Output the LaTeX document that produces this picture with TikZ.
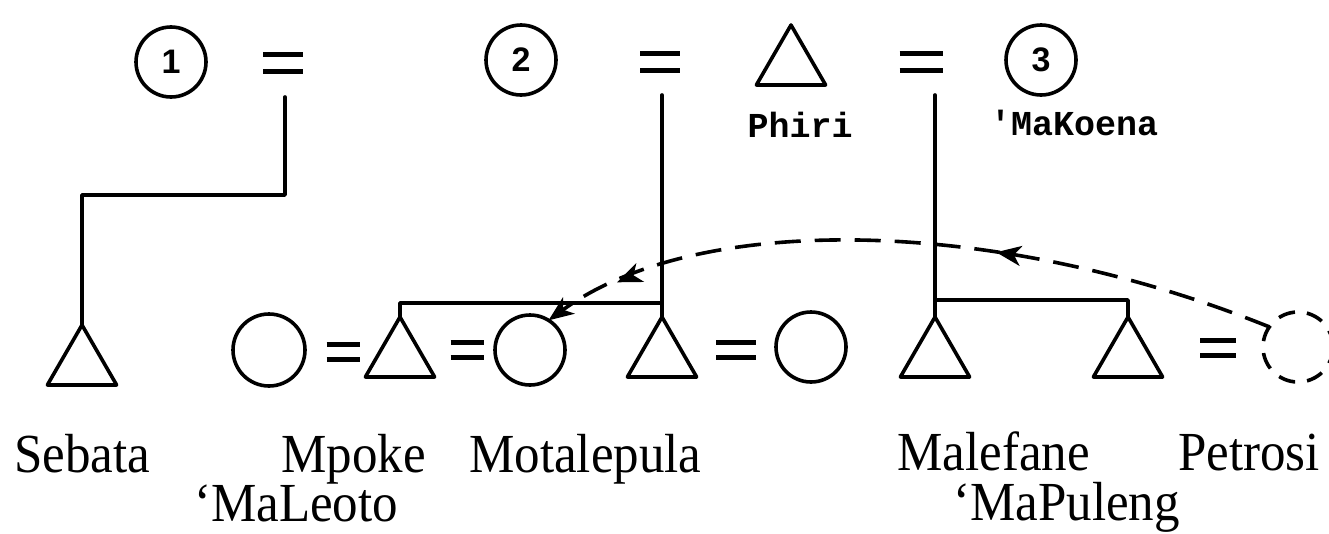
\documentclass[tikz,border=0pt]{standalone}
\usepackage{fontspec}
\setmainfont{Liberation Serif}
\newfontfamily\monob{Liberation Mono}
\newfontfamily\digitf{Liberation Sans}
\usetikzlibrary{shapes.geometric,decorations.markings,arrows.meta}
\newcommand{\tallname}[1]{\scalebox{1}[1.08]{#1}}
\begin{document}
\begin{tikzpicture}[x=1pt,y=-1pt,
  kin/.style={line width=3.6pt, line cap=round, line join=round},
  male/.style={regular polygon, regular polygon sides=3, draw, line width=3.6pt, line join=round, minimum size=80pt, inner sep=0pt, outer sep=0pt},
  female/.style={circle, draw, line width=3.6pt, minimum size=70pt, inner sep=0pt, outer sep=0pt},
  eqs/.style={minimum width=40pt, minimum height=17pt, inner sep=0pt, outer sep=0pt},
  eqsmall/.style={eqs, minimum width=33pt, minimum height=15pt},
  eqline/.style={line width=4.2pt},
  lbl/.style={font=\fontsize{51}{51}\selectfont, anchor=base west, inner sep=0pt},
  tlbl/.style={font=\monob\bfseries\fontsize{35}{35}\selectfont, anchor=base west, inner sep=0pt},
  num/.style={font=\digitf\bfseries\fontsize{34}{34}\selectfont},
  mytip/.tip={Stealth[length=25pt, width=20pt, inset=7pt]}
]
\useasboundingbox (0,0) rectangle (1329,533);

% ---- top generation ----
\node[female, num] (c1) at (171,62) {1};
\node[eqs] (e1) at (283,63) {};
\node[female, num] (c2) at (521,60) {2};
\node[eqs] (e2) at (660,62) {};
\node[male] (phi) at (791,65) {};
\node[eqs, minimum width=43pt] (e3) at (921,62) {};
\node[female, num] (c3) at (1041,60) {3};

\node[tlbl, anchor=base] (tphi) at (800,137) {Phiri};
\node[tlbl] (tmak) at (990,135) {\char"27 MaKoena};

\foreach \e in {e1,e2,e3}
  \draw[eqline] (\e.north west) -- (\e.north east) (\e.south west) -- (\e.south east);

% ---- bottom generation ----
\node[male] (seb) at (82,365) {};
\node[female, minimum size=72pt] (ca) at (269,350) {};
\node[eqsmall] (ea) at (343,352) {};
\node[male] (mpo) at (400,357) {};
\node[eqsmall] (eb) at (467,350) {};
\node[female] (cb) at (530,350) {};
\node[male] (mot) at (662,357) {};
\node[eqsmall, minimum width=40pt] (ec) at (736,350) {};
\node[female] (cc) at (811,347) {};
\node[male] (mal) at (935,357) {};
\node[male] (bro) at (1128,357) {};
\node[eqsmall, minimum width=36pt] (ed) at (1218,348) {};
\node[female, dash pattern=on 17pt off 12pt] (pet) at (1298,347) {};

\foreach \e in {ea,eb,ec,ed}
  \draw[eqline] (\e.north west) -- (\e.north east) (\e.south west) -- (\e.south east);

% ---- descent lines ----
\coordinate (t1) at (285,97);
\coordinate (t2) at (662,95);
\coordinate (t3) at (935,95);
\coordinate (j2) at (662,303);
\coordinate (j3) at (935,300);

\draw[kin] (t1) -- ++(0,98) -| (seb.corner 1);
\draw[kin] (t2) -- (mot.corner 1);
\draw[kin] (mpo.corner 1) |- (j2);
\draw[kin] (t3) -- (mal.corner 1);
\draw[kin] (j3) -| (bro.corner 1);

% ---- dashed transfer arrow ----
\draw[kin, line cap=butt, dash pattern=on 26pt off 14pt, -{mytip},
  postaction={decorate},
  decoration={markings,
    mark=at position 0.38 with {\arrow{mytip}},
    mark=at position 0.895 with {\arrow{mytip}}}]
  (pet.145) .. controls (1000,218) and (700,210) .. (cb.58);

% ---- names ----
\node[lbl] (tseb) at (14,472) {\tallname{Sebata}};
\node[lbl] (tmpo) at (281,472) {\tallname{Mpoke}};
\node[lbl] (tmot) at (469,472) {\tallname{Motalepula}};
\node[lbl] (tmal) at (897,470) {\tallname{Malefane}};
\node[lbl] (tpet) at (1178,470) {\tallname{Petrosi}};
\node[lbl] (tmle) at (194,521) {\tallname{‘MaLeoto}};
\node[lbl] (tmpu) at (953,520) {\tallname{‘MaPuleng}};
\end{tikzpicture}
\end{document}
